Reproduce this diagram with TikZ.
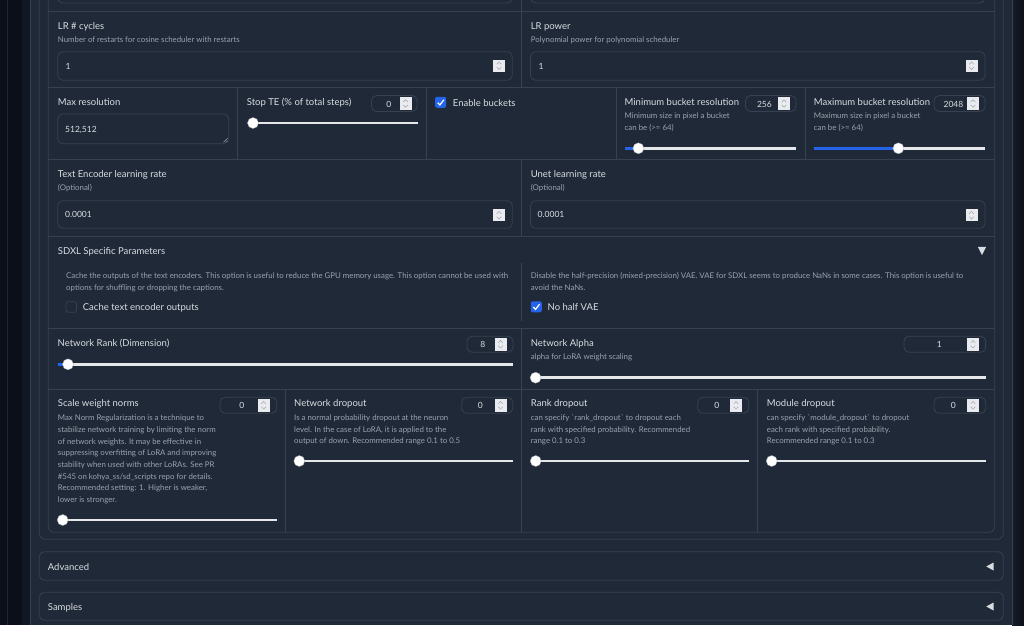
\documentclass[tikz,border=0pt]{standalone}
\usepackage{fontspec}
\setmainfont{Lato}
\usetikzlibrary{positioning}
\definecolor{night}{HTML}{0B0F19}
\definecolor{slate}{HTML}{1F2937}
\definecolor{edge}{HTML}{374151}
\definecolor{ink}{HTML}{D9DDE3}
\definecolor{muted}{HTML}{9CA3AF}
\definecolor{accent}{HTML}{2563EB}
\definecolor{railc}{HTML}{E5E7EB}
\definecolor{spinc}{HTML}{E9EBEF}

\begin{document}
\begin{tikzpicture}[x=1pt, y=-1pt,
    lbl/.style = {anchor=west, inner sep=0, text=ink, text height=8pt, text depth=1pt, font=\fontsize{9.5}{11}\selectfont},
    hint/.style = {anchor=west, inner sep=0, text=muted, text height=6pt, text depth=0.8pt, font=\fontsize{7.85}{9}\selectfont},
    val/.style = {inner sep=0, text=ink, text height=6.2pt, text depth=0pt, font=\fontsize{8.5}{10}\selectfont},
    frame/.style = {draw=edge, line width=0.8pt},
    field/.style = {draw=edge, line width=0.8pt, rounded corners=5pt},
    rail/.style = {draw=railc, line width=2.7pt},
    knob/.style = {circle, fill=white, draw=muted, line width=0.3pt, inner sep=0, minimum size=11pt},
    tick/.style = {fill=accent, rounded corners=2pt, minimum size=11pt, inner sep=0},
    untick/.style = {draw=edge, line width=0.8pt, rounded corners=2pt, minimum size=10.5pt, inner sep=0}]
    \useasboundingbox (0,0) rectangle (1024,625);

    % page and panels
    \fill[night] (0,0) rectangle (1024,625);
    \draw[edge!45!night] (7,0) -- (7,625);
    \fill[slate!35!night] (22,0) rectangle (30,625);
    \shade[left color=slate!55!night, right color=night] (1012,0) rectangle (1024,625);
    \fill[slate] (30,0) rectangle (1012,625);
    \draw[frame] (30,0) -- (30,625);
    \draw[frame] (1012,0) -- (1012,625);
    \draw[field, rounded corners=6pt] (39.3,-20) rectangle (1003.3,539.3);
    \draw[field, rounded corners=6pt] (48.3,-20) rectangle (994.7,532.3);
    \draw[field] (39.3,551.7) rectangle (1003.3,580.3);
    \draw[field] (39.3,592.3) rectangle (1003.3,620.3);

    % grid of the form
    \foreach \y in {11.7, 87.7, 159.7, 236.7, 328.3, 389.3}
      \draw[frame] (48.3,\y) -- (994.7,\y);
    \foreach \xa/\ya/\yb in {521/0/11.7, 521/11.7/87.7, 237.3/87.7/159.7, 426.3/87.7/159.7,
        616.5/87.7/159.7, 805/87.7/159.7, 521/159.7/236.7, 521.7/263/320.7, 521/328.3/389.3,
        285.3/389.3/532.3, 521.7/389.3/532.3, 757.3/389.3/532.3}
      \draw[frame] (\xa,\ya) -- (\xa,\yb);

    % input fields
    \foreach \xa/\ya/\xb/\yb in {57.7/-20/512.3/3, 530.5/-20/985/3, 57.7/51.7/512.3/80.3,
        530.5/51.7/985/80.3, 57.7/200.7/512.3/228.3, 530.5/200.7/985/228.3, 57.7/114/228.7/143.7}
      \draw[field] (\xa,\ya) rectangle (\xb,\yb);
    \draw[muted, line width=0.5pt] (223.5,142.3) -- (227.5,138.3) (225.8,142.3) -- (227.5,140.6);
    \foreach \xa/\xb/\y in {371.5/417/103.5, 745.5/796/103.5, 934/985/103.5, 467/513/344.3,
        904/985.6/344.3, 220/276.7/405.3, 461.7/512.7/405.3, 697.7/748.7/405.3, 934/985.7/405.3}
      \draw[field] (\xa,\y-8) rectangle (\xb,\y+8);

    % spinners
    \foreach \cx/\cy in {499/65.7, 971.5/65.7, 499/215.2, 971.5/215.2, 405.5/103.5, 784/103.5,
        973/103.5, 500.5/344.3, 973/344.3, 263.7/405.3, 500.5/405.3, 736/405.3, 973/405.3} {
      \fill[spinc] (\cx-6,\cy-6.2) rectangle (\cx+6,\cy+6.2);
      \draw[muted, line width=0.45pt] (\cx-2.3,\cy-1.4) -- (\cx,\cy-3.8) -- (\cx+2.3,\cy-1.4);
      \draw[muted, line width=0.45pt] (\cx-2.3,\cy+1.4) -- (\cx,\cy+3.8) -- (\cx+2.3,\cy+1.4);
    }

    % sliders
    \foreach \xa/\xb/\y/\k [count=\i] in {246.7/417.7/123/253, 625/796/148.3/638.4,
        813.7/985/148.3/898.4, 57.5/513/364.3/68, 530.6/985.6/377.7/535.6, 57.7/276.7/520/62.7,
        294/512.7/461/299.3, 530.7/748.7/461/535.7, 766.7/985.7/461/771.7} {
      \draw[rail] (\xa,\y) -- (\xb,\y);
      \draw[rail, draw=accent] (\xa,\y) -- (\k,\y);
      \node[knob] (knob\i) at (\k,\y) {};
    }

    % check boxes
    \node[tick] (bucketbox) at (440.7,102.3) {};
    \node[tick] (vaebox) at (536.3,306.8) {};
    \node[untick] (cachebox) at (71.3,307) {};
    \foreach \n in {bucketbox, vaebox}
      \draw[white, line width=1.2pt] ([shift={(-3,0.3)}]\n.center) -- ([shift={(-0.8,2.6)}]\n.center)
        -- ([shift={(3.2,-2.6)}]\n.center);

    % fold marks
    \fill[ink] (977.8,246.8) -- (986.2,246.8) -- (982,255) -- cycle;
    \fill[ink] (993.5,562.5) -- (993.5,570.5) -- (986.3,566.5) -- cycle;
    \fill[ink] (993.5,602.5) -- (993.5,610.5) -- (986.3,606.5) -- cycle;

    % labels, row 1
    \node[lbl] (cyc) at (57.7,25.7) {LR \# cycles};
    \node[hint] (cycd) at (57.7,40) {Number of restarts for cosine scheduler with restarts};
    \node[val, anchor=west] (cycv) at (65.5,66) {1};
    \node[lbl] (pow) at (530.6,25.7) {LR power};
    \node[hint] (powd) at (530.6,40) {Polynomial power for polynomial scheduler};
    \node[val, anchor=west] (powv) at (538.5,66) {1};

    % row 2
    \node[lbl] (maxres) at (57.7,101.7) {Max resolution};
    \node[val, anchor=west] (maxresv) at (65,129) {512,512};
    \node[lbl] (stopte) at (246.7,101.7) {Stop TE (\% of total steps)};
    \node[val, anchor=east] (stoptev) at (391.5,104) {0};
    \node[lbl] (buckets) at (452.7,102.5) {Enable buckets};
    \node[lbl] (minb) at (624.5,102) {Minimum bucket resolution};
    \node[hint] (minbd) at (624.5,116) {Minimum size in pixel a bucket};
    \node[hint] (minbe) at (624.5,127.7) {can be (>= 64)};
    \node[val, anchor=east] (minbv) at (772,104) {256};
    \node[lbl] (maxb) at (813.7,102) {Maximum bucket resolution};
    \node[hint] (maxbd) at (813.7,116) {Maximum size in pixel a bucket};
    \node[hint] (maxbe) at (813.7,127.7) {can be (>= 64)};
    \node[val, anchor=east] (maxbv) at (963.5,104) {2048};

    % row 3
    \node[lbl] (telr) at (57.7,174.3) {Text Encoder learning rate};
    \node[hint] (telrd) at (57.7,188.3) {(Optional)};
    \node[val, anchor=west] (telrv) at (65,214.7) {0.0001};
    \node[lbl] (unlr) at (530.6,174.3) {Unet learning rate};
    \node[hint] (unlrd) at (530.6,188.3) {(Optional)};
    \node[val, anchor=west] (unlrv) at (537.5,214.7) {0.0001};

    % SDXL block
    \node[lbl] (sdxl) at (57.7,251) {SDXL Specific Parameters};
    \node[hint] (cached) at (66,275.7) {Cache the outputs of the text encoders. This option is useful to reduce the GPU memory usage. This option cannot be used with};
    \node[hint] (cachee) at (66,288) {options for shuffling or dropping the captions.};
    \node[lbl] (cache) at (82.7,307) {Cache text encoder outputs};
    \node[hint] (vaed) at (530.6,275.7) {Disable the half-precision (mixed-precision) VAE. VAE for SDXL seems to produce NaNs in some cases. This option is useful to};
    \node[hint] (vaee) at (530.6,288) {avoid the NaNs.};
    \node[lbl] (vae) at (547.5,307) {No half VAE};

    % network rank and alpha
    \node[lbl] (rank) at (57.5,342.7) {Network Rank (Dimension)};
    \node[val, anchor=east] (rankv) at (485.5,344.5) {8};
    \node[lbl] (alpha) at (530.6,342.7) {Network Alpha};
    \node[hint] (alphad) at (530.6,357.3) {alpha for LoRA weight scaling};
    \node[val, anchor=east] (alphav) at (942,344.5) {1};

    % dropout row
    \node[lbl] (swn) at (57.7,403.3) {Scale weight norms};
    \node[val, anchor=east] (swnv) at (244.5,405.5) {0};
    \foreach \t [count=\i from 0] in {{Max Norm Regularization is a technique to},
        {stabilize network training by limiting the norm}, {of network weights. It may be effective in},
        {suppressing overfitting of LoRA and improving}, {stability when used with other LoRAs. See PR},
        {\#545 on kohya\_ss/sd\_scripts repo for details.}, {Recommended setting: 1. Higher is weaker,},
        {lower is stronger.}}
      \node[hint] (swn\i) at (57.7,418.3+11.67*\i) {\t};
    \node[lbl] (ndrop) at (294,403.3) {Network dropout};
    \node[val, anchor=east] (ndropv) at (483,405.5) {0};
    \foreach \t [count=\i from 0] in {{Is a normal probability dropout at the neuron},
        {level. In the case of LoRA, it is applied to the}, {output of down. Recommended range 0.1 to 0.5}}
      \node[hint] (ndrop\i) at (294,418.3+11.35*\i) {\t};
    \node[lbl] (rdrop) at (530.7,403.3) {Rank dropout};
    \node[val, anchor=east] (rdropv) at (719.5,405.5) {0};
    \foreach \t [count=\i from 0] in {{can specify \textasciigrave rank\_dropout\textasciigrave\ to dropout each},
        {rank with specified probability. Recommended}, {range 0.1 to 0.3}}
      \node[hint] (rdrop\i) at (530.7,418.3+11.35*\i) {\t};
    \node[lbl] (mdrop) at (766.7,403.3) {Module dropout};
    \node[val, anchor=east] (mdropv) at (956,405.5) {0};
    \foreach \t [count=\i from 0] in {{can specify \textasciigrave module\_dropout\textasciigrave\ to dropout},
        {each rank with specified probability.}, {Recommended range 0.1 to 0.3}}
      \node[hint] (mdrop\i) at (766.7,418.3+11.35*\i) {\t};

    % closed sections
    \node[lbl] (adv) at (47.7,566.5) {Advanced};
    \node[lbl] (smp) at (47.7,606.8) {Samples};
  \end{tikzpicture}
\end{document}
